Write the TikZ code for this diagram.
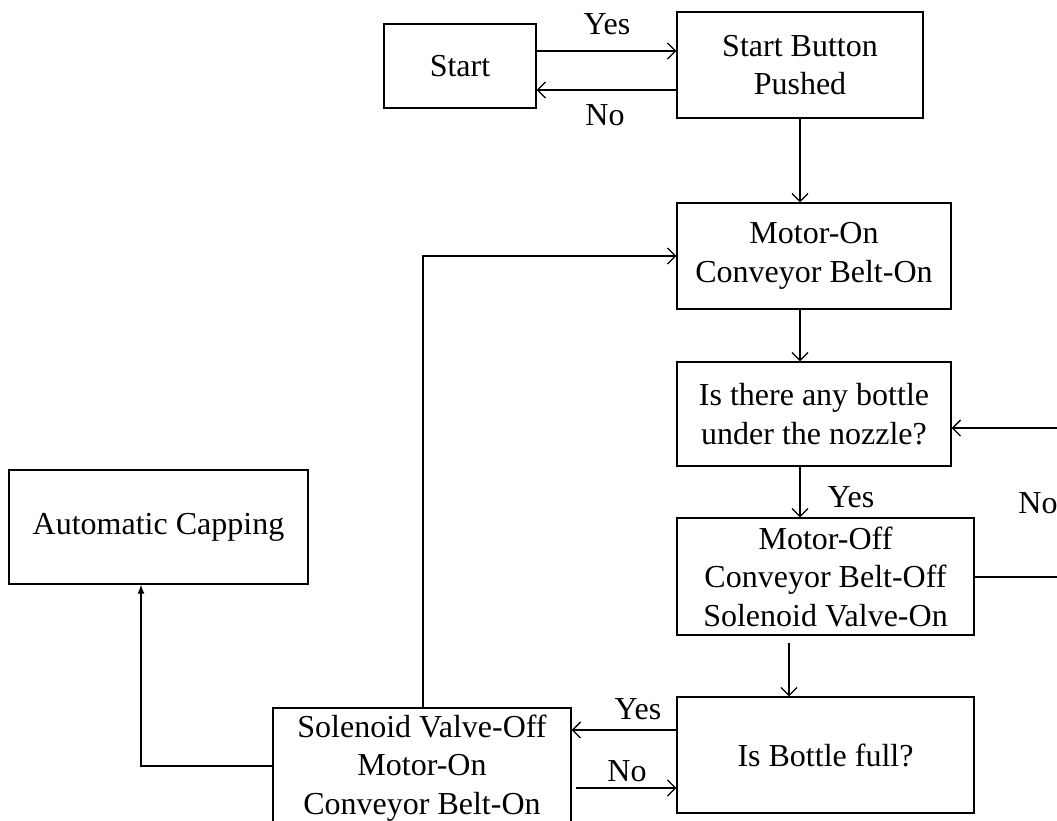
\documentclass[tikz,border=0pt]{standalone}
\usepackage{fontspec}
\setmainfont{Liberation Serif}
\usetikzlibrary{arrows.meta}
\begin{document}
\begin{tikzpicture}[x=1pt,y=-1pt,
  box/.style={draw, line width=1.3pt, rectangle, inner sep=0pt, align=center,
    font=\fontsize{32}{38.5}\selectfont},
  lbl/.style={inner sep=0pt, font=\fontsize{32}{38.5}\selectfont},
  arr/.style={line width=1.3pt, -{Straight Barb[length=8pt,width=16pt,line width=1.3pt]}},
  arrf/.style={line width=1.3pt, -{Latex[length=9pt,width=7pt]}},
  ln/.style={line width=1.3pt}]
\clip (0,0) rectangle (1057,821);
\fill[white] (0,0) rectangle (1057,821);

\node[box, minimum width=152pt, minimum height=84pt] (start) at (460,66) {Start};
\node[box, minimum width=246pt, minimum height=106pt] (sbp) at (800,65) {Start Button\\Pushed};
\node[box, minimum width=274pt, minimum height=106pt] (mon) at (814,256) {Motor-On\\Conveyor Belt-On};
\node[box, minimum width=274pt, minimum height=104pt] (isb) at (814,414) {Is there any bottle\\under the nozzle?};
\node[box, minimum width=297pt, minimum height=117pt] (moff) at (825.5,576.5) {Motor-Off\\Conveyor Belt-Off\\Solenoid Valve-On};
\node[box, minimum width=297pt, minimum height=116pt] (full) at (825.5,755) {Is Bottle full?};
\node[box, minimum width=298pt, minimum height=120pt] (sol) at (422,768) {Solenoid Valve-Off\\Motor-On\\Conveyor Belt-On};
\node[box, minimum width=299pt, minimum height=114pt] (ac) at (158.5,527) {Automatic Capping};

\coordinate (yA) at (0,51);
\coordinate (yB) at (0,90);
\coordinate (xA) at (800,0);
\coordinate (xB) at (789,0);
\coordinate (rin) at (1062,428);
\coordinate (rout) at (1062,577);
\coordinate (yC) at (0,730);
\coordinate (yD) at (0,788);
\coordinate (lp) at (423,256);
\coordinate (cp) at (141,766);

\draw[arr] (start.east |- yA) -- (sbp.west |- yA);
\draw[arr] (sbp.west |- yB) -- (start.east |- yB);
\draw[arr] (sbp.south -| xA) -- (mon.north -| xA);
\draw[arr] (mon.south -| xA) -- (isb.north -| xA);
\draw[arr] (isb.south -| xA) -- (moff.north -| xA);
\draw[arr] (rin) -- (isb.east |- rin);
\draw[ln] (moff.east |- rout) -- (rout);
\draw[arr, shorten <=7pt] (moff.south -| xB) -- (full.north -| xB);
\draw[arr] (full.west |- yC) -- (sol.east |- yC);
\draw[arr, shorten <=4pt] (sol.east |- yD) -- (full.west |- yD);
\draw[arr] (sol.north -| lp) -- (lp) -- (mon.west |- lp);
\draw[arrf] (sol.west |- cp) -- (cp) -- (ac.south -| cp);

\node[lbl] (l1) at (607,24) {Yes};
\node[lbl] (l2) at (605,115) {No};
\node[lbl] (l3) at (851,497) {Yes};
\node[lbl] (l4) at (1038,503) {No};
\node[lbl] (l5) at (638,709) {Yes};
\node[lbl] (l6) at (627,771) {No};
\end{tikzpicture}
\end{document}
